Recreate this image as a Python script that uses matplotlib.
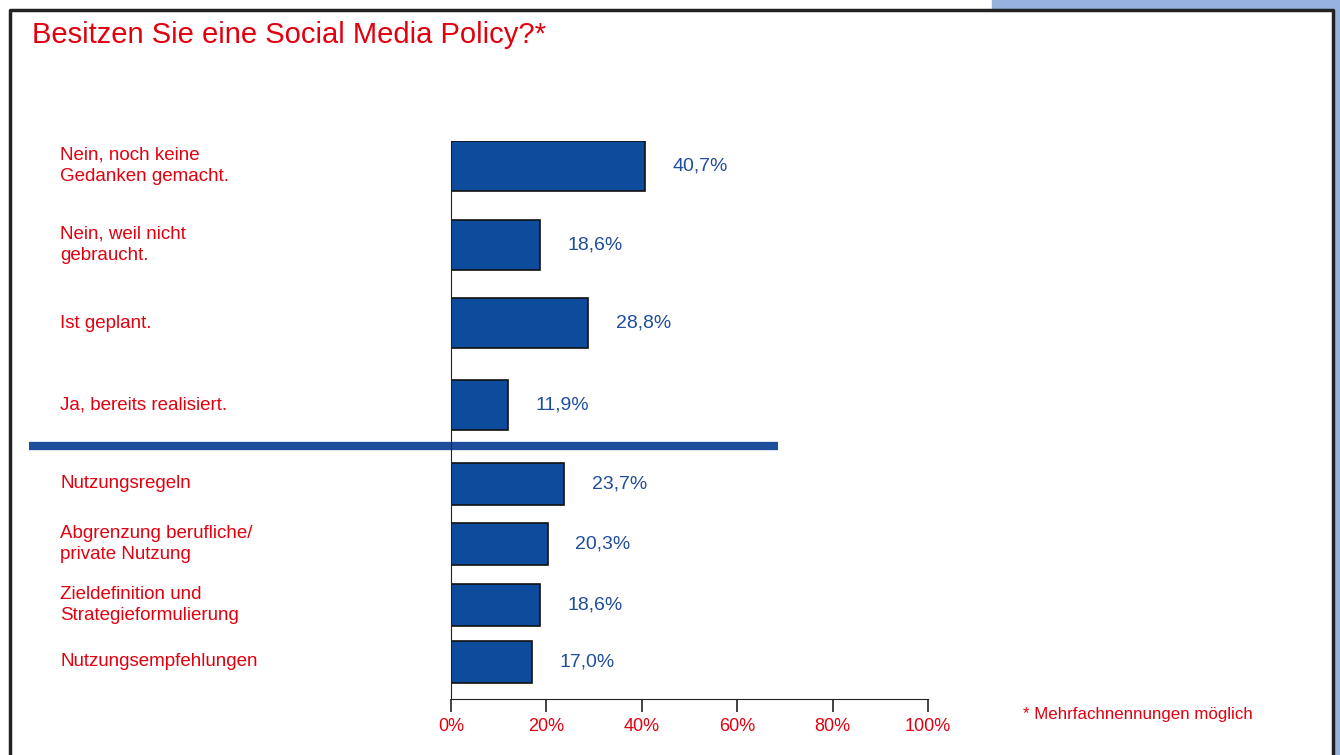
import matplotlib
matplotlib.use("Agg")
import matplotlib.pyplot as plt
import matplotlib.transforms as mtransforms
from matplotlib.patches import Rectangle
from matplotlib.lines import Line2D

plt.rcParams["font.family"] = ["Liberation Sans", "DejaVu Sans"]

# Daten
labels_top = ["Nein, noch keine\nGedanken gemacht.", "Nein, weil nicht\ngebraucht.",
              "Ist geplant.", "Ja, bereits realisiert."]
values_top = [40.7, 18.6, 28.8, 11.9]
labels_bottom = ["Nutzungsregeln", "Abgrenzung berufliche/\nprivate Nutzung",
                 "Zieldefinition und\nStrategieformulierung", "Nutzungsempfehlungen"]
values_bottom = [23.7, 20.3, 18.6, 17.0]
ticks = [0, 20, 40, 60, 80, 100]

RED = "#e2000f"
BLUE = "#0d4c9c"
TXTBLUE = "#1f4e9c"

W, H = 1340, 755
fig = plt.figure(figsize=(W / 100, H / 100), dpi=100)

# Rahmen und hellblaue Ecke
fig.patches.append(Rectangle((992 / W, 1 - 9 / H), 1 - 992 / W, 9 / H,
                             transform=fig.transFigure, color="#95b3de", zorder=0))
fig.patches.append(Rectangle((1334 / W, 0), 6 / W, 1, transform=fig.transFigure,
                             color="#95b3de", zorder=0))
fig.lines.append(Line2D([10 / W, 10 / W, 1332.5 / W, 1332.5 / W],
                        [0, 1 - 10 / H, 1 - 10 / H, 0],
                        transform=fig.transFigure, color="#222222", lw=2.5))

fig.text(32 / W, 1 - 35 / H, "Besitzen Sie eine Social Media Policy?*",
         fontsize=21, color=RED, va="center", ha="left")

# Achse in Pixel-Einheiten (y)
ax = fig.add_axes([451 / W, 1 - 699 / H, (928 - 451) / W, (699 - 141) / H])
ax.set_xlim(0, 100)
ax.set_ylim(699, 141)

pos_top = [166, 245, 323, 405]
pos_bottom = [484, 544, 605, 662]

ax.barh(pos_top, values_top, height=50, color=BLUE, edgecolor="#111111", lw=1.2)
ax.barh(pos_bottom, values_bottom, height=42, color=BLUE, edgecolor="#111111", lw=1.2)

trans = mtransforms.blended_transform_factory(fig.transFigure, ax.transData)
for lab, v, y in zip(labels_top + labels_bottom, values_top + values_bottom,
                     pos_top + pos_bottom):
    ax.text(60 / W, y, lab, transform=trans, color=RED, fontsize=13.5,
            va="center", ha="left", linespacing=1.35)
    ax.text(v + 5.8, y, f"{v:.1f}%".replace(".", ","), color=TXTBLUE,
            fontsize=14, va="center", ha="left")

# Trennlinie
ax.add_line(Line2D([29 / W, 778 / W], [446, 446], transform=trans,
                   color="#1f4e9c", lw=6, clip_on=False, solid_capstyle="butt"))

ax.set_xticks(ticks)
ax.set_xticklabels([f"{t}%" for t in ticks], color=RED, fontsize=13)
ax.set_yticks([])
for s in ["top", "right"]:
    ax.spines[s].set_visible(False)
ax.spines["bottom"].set_color("#222222")
ax.spines["left"].set_color("#222222")
ax.tick_params(axis="x", direction="out", length=9, width=1.2, color="#222222", pad=5)

fig.text(1023 / W, 1 - 714 / H, "* Mehrfachnennungen möglich", color=RED,
         fontsize=12.2, va="center", ha="left")

fig.savefig("out.png", dpi=100)
